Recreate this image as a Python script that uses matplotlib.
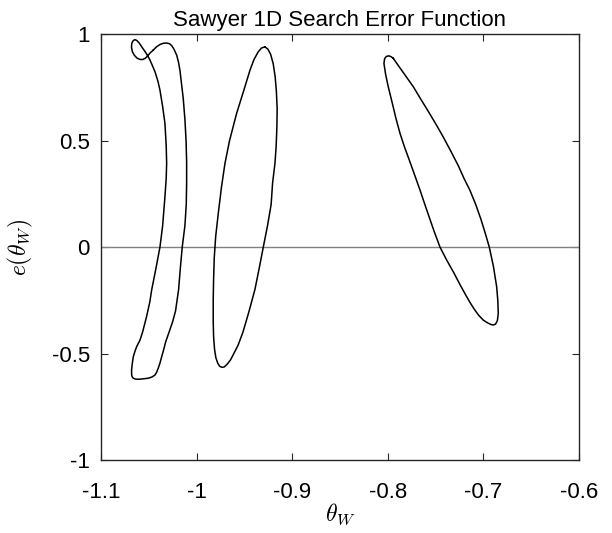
import matplotlib
matplotlib.use("Agg")
import matplotlib.pyplot as plt
from matplotlib.ticker import FuncFormatter

# closed curves of e(theta_W)
loop1_theta = [-1.0453, -1.0420, -1.0383, -1.0348, -1.0313, -1.0283, -1.0260, -1.0235,
               -1.0208, -1.0190, -1.0174, -1.0140, -1.0122, -1.0110, -1.0104, -1.0104,
               -1.0108, -1.0122, -1.0150, -1.0170, -1.0188, -1.0220, -1.0250, -1.0288,
               -1.0323, -1.0343, -1.0365, -1.0383, -1.0401, -1.0418, -1.0435, -1.0465,
               -1.0505, -1.0560, -1.0610, -1.0640, -1.0662, -1.0674, -1.0679, -1.0680,
               -1.0672, -1.0662, -1.0645, -1.0627, -1.0592, -1.0565, -1.0525, -1.0490,
               -1.0470, -1.0425, -1.0383, -1.0355, -1.0331, -1.0318, -1.0313, -1.0318,
               -1.0331, -1.0355, -1.0383, -1.0405, -1.0435, -1.0465, -1.0487, -1.0511,
               -1.0535, -1.0570, -1.0600, -1.0625, -1.0644, -1.0662, -1.0677, -1.0681,
               -1.0672, -1.0650, -1.0622, -1.0592, -1.0562, -1.0535, -1.0511, -1.0485,
               -1.0453]
loop1_err = [0.925, 0.940, 0.951, 0.957, 0.958, 0.955, 0.946, 0.928,
             0.901, 0.870, 0.830, 0.700, 0.600, 0.500, 0.400, 0.300,
             0.200, 0.100, 0.000, -0.100, -0.200, -0.300, -0.350, -0.400,
             -0.445, -0.480, -0.515, -0.545, -0.569, -0.588, -0.601, -0.610,
             -0.616, -0.619, -0.621, -0.620, -0.616, -0.609, -0.601, -0.577,
             -0.545, -0.515, -0.490, -0.468, -0.437, -0.400, -0.330, -0.260,
             -0.202, -0.100, 0.000, 0.100, 0.236, 0.320, 0.393, 0.480,
             0.581, 0.660, 0.737, 0.780, 0.823, 0.855, 0.878, 0.898,
             0.915, 0.938, 0.958, 0.970, 0.974, 0.970, 0.958, 0.940,
             0.918, 0.900, 0.887, 0.881, 0.881, 0.887, 0.898, 0.912,
             0.925]

loop2_theta = [-0.9285, -0.9255, -0.9225, -0.9198, -0.9178, -0.9165, -0.9157, -0.9160,
               -0.9168, -0.9180, -0.9205, -0.9220, -0.9258, -0.9302, -0.9345, -0.9390,
               -0.9450, -0.9515, -0.9565, -0.9610, -0.9645, -0.9680, -0.9710, -0.9735,
               -0.9758, -0.9778, -0.9798, -0.9812, -0.9822, -0.9826, -0.9826, -0.9822,
               -0.9815, -0.9800, -0.9773, -0.9740, -0.9703, -0.9655, -0.9581, -0.9510,
               -0.9441, -0.9400, -0.9355, -0.9320, -0.9285]
loop2_err = [0.940, 0.930, 0.905, 0.860, 0.800, 0.730, 0.650, 0.560,
             0.470, 0.393, 0.300, 0.200, 0.100, 0.000, -0.100, -0.200,
             -0.300, -0.400, -0.460, -0.500, -0.530, -0.550, -0.563, -0.565,
             -0.560, -0.546, -0.520, -0.480, -0.420, -0.350, -0.250, -0.150,
             -0.050, 0.050, 0.158, 0.280, 0.393, 0.500, 0.628, 0.730,
             0.831, 0.880, 0.917, 0.935, 0.940]

loop3_theta = [-0.7942, -0.7886, -0.7807, -0.7733, -0.7662, -0.7580, -0.7500, -0.7421,
               -0.7340, -0.7260, -0.7200, -0.7142, -0.7080, -0.7025, -0.6977, -0.6938,
               -0.6895, -0.6861, -0.6849, -0.6844, -0.6853, -0.6872, -0.6896, -0.6920,
               -0.6960, -0.7001, -0.7050, -0.7098, -0.7140, -0.7175, -0.7240, -0.7310,
               -0.7385, -0.7454, -0.7512, -0.7566, -0.7612, -0.7663, -0.7720, -0.7776,
               -0.7825, -0.7872, -0.7912, -0.7955, -0.7995, -0.8022, -0.8040, -0.8033,
               -0.8015, -0.7990, -0.7965, -0.7942]
loop3_err = [0.886, 0.850, 0.800, 0.753, 0.700, 0.640, 0.580, 0.518,
             0.450, 0.380, 0.320, 0.268, 0.200, 0.130, 0.060, 0.000,
             -0.090, -0.186, -0.250, -0.311, -0.345, -0.362, -0.366, -0.364,
             -0.355, -0.343, -0.320, -0.290, -0.260, -0.233, -0.180, -0.120,
             -0.060, 0.000, 0.070, 0.140, 0.200, 0.268, 0.340, 0.410,
             0.470, 0.534, 0.600, 0.680, 0.753, 0.810, 0.862, 0.885,
             0.895, 0.898, 0.894, 0.886]

x_ticks = [-1.1, -1.0, -0.9, -0.8, -0.7, -0.6]
y_ticks = [-1.0, -0.5, 0.0, 0.5, 1.0]

plt.rcParams["font.family"] = ["Liberation Sans", "DejaVu Sans"]
plt.rcParams["mathtext.fontset"] = "cm"
plt.rcParams["axes.unicode_minus"] = False

fig = plt.figure(figsize=(6.12, 5.33), dpi=100)
ax = fig.add_axes([0.165, 0.137, 0.781, 0.799])

ax.axhline(0, color="#808080", lw=1.0)
for th, err in [(loop1_theta, loop1_err), (loop2_theta, loop2_err), (loop3_theta, loop3_err)]:
    ax.plot(th, err, color="black", lw=1.1)

ax.set_xlim(-1.1, -0.6)
ax.set_ylim(-1, 1)
ax.set_xticks(x_ticks)
ax.set_yticks(y_ticks)
fmt = FuncFormatter(lambda v, pos: "%g" % round(v, 2))
ax.xaxis.set_major_formatter(fmt)
ax.yaxis.set_major_formatter(fmt)
ax.tick_params(direction="in", length=5, width=0.8, color="#262626",
               labelsize=16, top=True, right=True)
ax.tick_params(axis="x", pad=16)
ax.tick_params(axis="y", pad=8)
for s in ax.spines.values():
    s.set_color("#262626")
    s.set_linewidth(1.0)

ax.set_title("Sawyer 1D Search Error Function", fontsize=16, pad=6)
ax.set_xlabel(r"$\theta_W$", fontsize=17, labelpad=-1)
ax.set_ylabel(r"$e(\theta_W)$", fontsize=17, labelpad=12)

fig.savefig("out.png", dpi=100)
